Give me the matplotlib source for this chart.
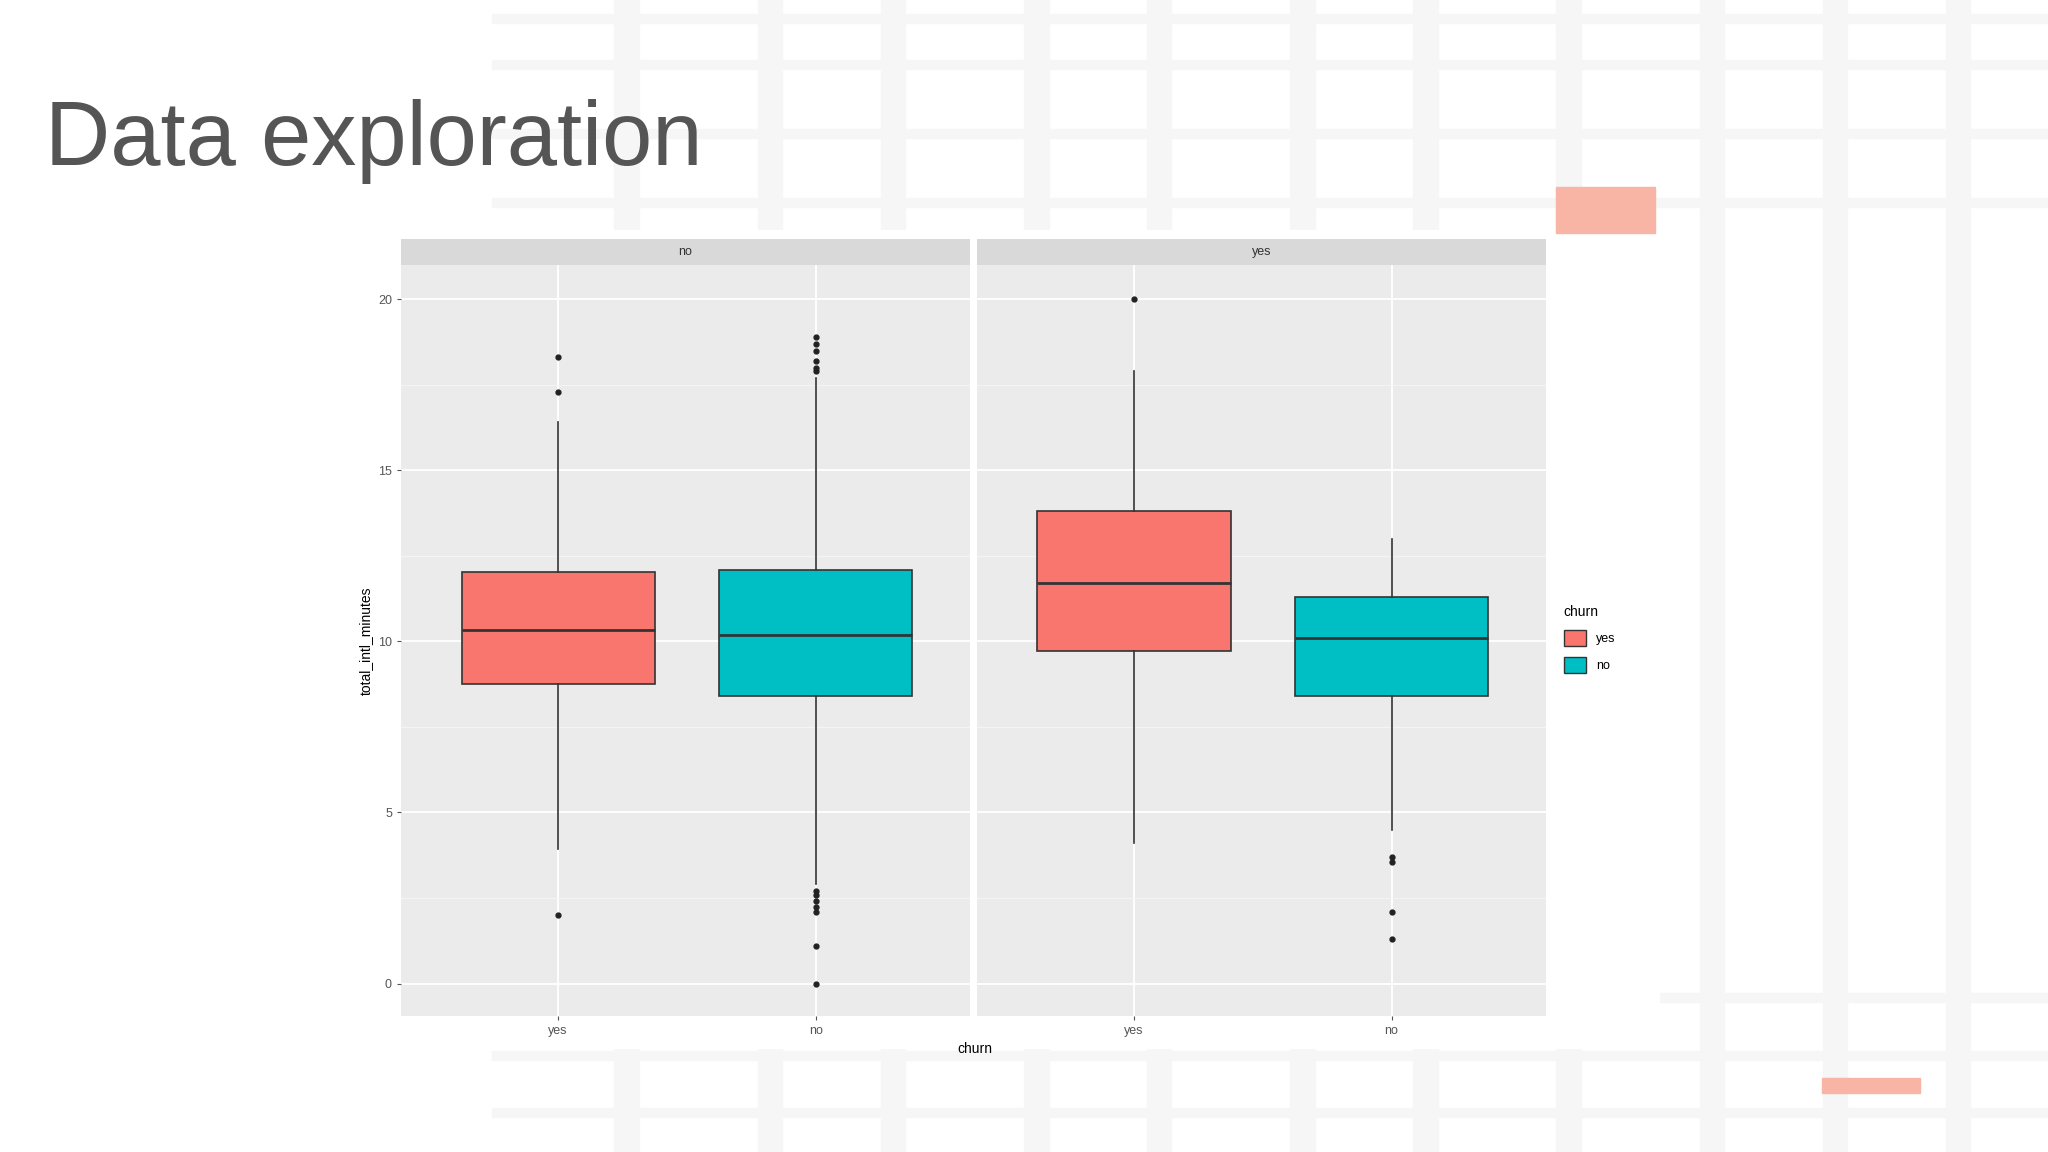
import matplotlib.pyplot as plt
import matplotlib.patches as mpatches

plt.rcParams['font.family'] = ['Liberation Sans', 'DejaVu Sans']

# box stats: panel -> churn group
panels = ['no', 'yes']
groups = ['yes', 'no']
colors = {'yes': '#F8766D', 'no': '#00BFC4'}

q1 = {'no': [8.74, 8.4], 'yes': [9.73, 8.4]}
med = {'no': [10.34, 10.2], 'yes': [11.7, 10.1]}
q3 = {'no': [12.02, 12.1], 'yes': [13.8, 11.3]}
whislo = {'no': [3.93, 2.9], 'yes': [4.1, 4.5]}
whishi = {'no': [16.4, 17.7], 'yes': [17.9, 13.0]}
fliers = {
    'no': [[18.3, 17.3, 2.0],
           [18.9, 18.7, 18.5, 18.2, 18.0, 17.9, 2.7, 2.6, 2.4, 2.25, 2.1, 1.1, 0.0]],
    'yes': [[20.0],
            [3.7, 3.55, 2.1, 1.3]],
}

fig = plt.figure(figsize=(20.48, 11.52), dpi=100)
fig.patch.set_facecolor('white')


def add_rect(x, y, w, h, color, z=0):
    fig.patches.append(mpatches.Rectangle((x, y), w, h, transform=fig.transFigure,
                                          color=color, zorder=z))


# faint lattice decoration in the background
for x in [0.30, 0.37, 0.43, 0.50, 0.56, 0.63, 0.69, 0.76, 0.83, 0.89, 0.95]:
    add_rect(x, 0, 0.012, 1, '#f6f6f6')
for y in [0.03, 0.08, 0.13, 0.82, 0.88, 0.94, 0.98]:
    add_rect(0.24, y, 0.76, 0.008, '#f6f6f6')
add_rect(0.17, 0.09, 0.64, 0.71, 'white')
add_rect(0.7596, 0.798, 0.0485, 0.04, '#F8B4A4', 1)
add_rect(0.8897, 0.051, 0.0478, 0.013, '#F8B4A4', 1)

fig.text(0.022, 0.877, 'Data exploration', fontsize=65, color='#555555', va='center')

lefts = [0.1958, 0.477]
width = 0.2779
bottom, top = 0.118, 0.770
for i, p in enumerate(panels):
    ax = fig.add_axes([lefts[i], bottom, width, top - bottom])
    ax.set_zorder(5)
    ax.set_facecolor('#EBEBEB')
    stats = []
    for j, g in enumerate(groups):
        stats.append(dict(q1=q1[p][j], med=med[p][j], q3=q3[p][j], whislo=whislo[p][j],
                          whishi=whishi[p][j], fliers=fliers[p][j], label=g))
    bp = ax.bxp(stats, positions=[1, 2], widths=0.75, patch_artist=True, showcaps=False,
                boxprops=dict(edgecolor='#333333', linewidth=1.2),
                medianprops=dict(color='#333333', linewidth=2),
                whiskerprops=dict(color='#333333', linewidth=1.2),
                flierprops=dict(marker='o', markerfacecolor='#222222', markeredgecolor='#222222',
                                markersize=3.5))
    for patch, g in zip(bp['boxes'], groups):
        patch.set_facecolor(colors[g])
    ax.set_xlim(0.39, 2.6)
    ax.set_ylim(-0.95, 21.0)
    ax.set_yticks([0, 5, 10, 15, 20])
    ax.set_yticks([2.5, 7.5, 12.5, 17.5], minor=True)
    ax.grid(True, which='major', color='white', linewidth=1.3)
    ax.grid(True, which='minor', axis='y', color='#F5F5F5', linewidth=0.7)
    ax.set_axisbelow(True)
    for s in ax.spines.values():
        s.set_visible(False)
    ax.tick_params(colors='#555555', labelsize=9, length=3, which='major')
    ax.tick_params(which='minor', length=0)
    ax.set_xticks([1, 2])
    ax.set_xticklabels(groups)
    if i == 0:
        ax.set_ylabel('total_intl_minutes', fontsize=10)
    else:
        ax.tick_params(axis='y', left=False, labelleft=False)
    # facet strip
    sax = fig.add_axes([lefts[i], top, width, 0.0227])
    sax.set_zorder(5)
    sax.set_facecolor('#D9D9D9')
    sax.set_xticks([]); sax.set_yticks([])
    for s in sax.spines.values():
        s.set_visible(False)
    sax.text(0.5, 0.5, p, ha='center', va='center', fontsize=9, color='#333333',
             transform=sax.transAxes)

fig.text(0.476, 0.086, 'churn', ha='center', fontsize=10)

handles = [mpatches.Patch(facecolor=colors[g], edgecolor='#333333', label=g) for g in groups]
leg = fig.legend(handles=handles, title='churn', loc='upper left', bbox_to_anchor=(0.758, 0.485),
                 frameon=False, fontsize=9, title_fontsize=10, alignment='left',
                 handlelength=1.8, handleheight=1.6, labelspacing=0.9)
leg.set_zorder(6)

fig.savefig('out.png', dpi=100)
